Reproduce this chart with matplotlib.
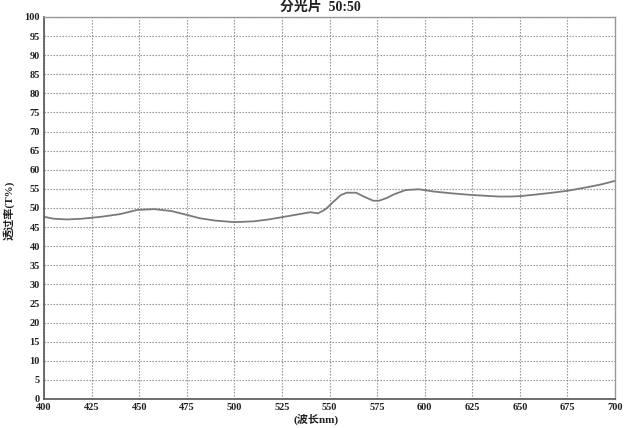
import matplotlib
matplotlib.use("Agg")
import matplotlib.pyplot as plt

plt.rcParams['font.family'] = ['Liberation Serif', 'Noto Sans CJK SC']

# wavelength (nm) and transmittance (T%)
wavelength = [400, 405, 412, 420, 430, 440, 449, 458, 467, 475, 482, 490, 500,
              510, 518, 525, 532, 540, 544, 548, 552, 556, 559, 564, 568, 573,
              576, 580, 584, 590, 597, 605, 615, 625, 632, 639, 645, 650, 658,
              667, 675, 685, 693, 700]
transmit = [47.7, 47.2, 47.0, 47.2, 47.7, 48.4, 49.5, 49.7, 49.2, 48.2, 47.3,
            46.7, 46.3, 46.5, 47.0, 47.6, 48.2, 48.9, 48.6, 49.7, 51.6, 53.4,
            54.0, 54.0, 53.0, 51.9, 51.9, 52.6, 53.6, 54.7, 54.9, 54.3, 53.8,
            53.4, 53.2, 53.0, 53.0, 53.1, 53.5, 54.0, 54.5, 55.4, 56.2, 57.1]

xticks = list(range(400, 701, 25))
yticks = list(range(0, 101, 5))

fig = plt.figure(figsize=(6.39, 4.28), dpi=100)
ax = fig.add_axes([44 / 639, 1 - 399 / 428, 571 / 639, 382 / 428])

ax.plot(wavelength, transmit, color='#7a7a7a', linewidth=1.3)

ax.set_xlim(400, 700)
ax.set_ylim(0, 100)
ax.set_xticks(xticks)
ax.set_yticks(yticks)
ax.tick_params(length=0, labelsize=7.5, pad=3, colors='#222222')
for lab in ax.get_xticklabels() + ax.get_yticklabels():
    lab.set_fontweight('bold')
ax.grid(True, linestyle=(0, (1.2, 1.5)), color='#888888', linewidth=0.8)
for side in ['left', 'bottom']:
    ax.spines[side].set_color('#555555')
    ax.spines[side].set_linewidth(1.2)
for side in ['right', 'top']:
    ax.spines[side].set_color('#999999')
    ax.spines[side].set_linewidth(1.0)

fig.text(320 / 639, 1 - 1 / 428, '分光片  50:50', ha='center', va='top',
         fontsize=10, fontweight='bold', color='#222222')
fig.text(9 / 639, 1 - 210 / 428, '透过率(T%)', ha='center', va='center',
         rotation=90, fontsize=8, fontweight='bold', color='#222222')
fig.text(316 / 639, 1 - 419 / 428, '(波长nm)', ha='center', va='center',
         fontsize=8, fontweight='bold', color='#222222')

fig.savefig('out.png', dpi=100)
